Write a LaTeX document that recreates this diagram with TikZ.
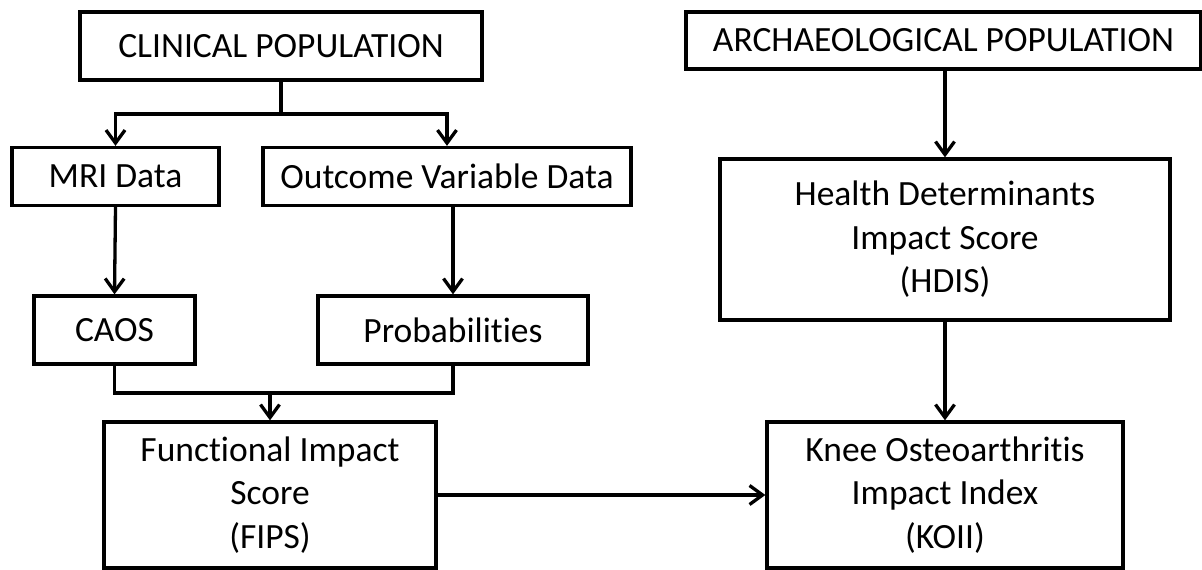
\documentclass[tikz,border=0pt]{standalone}
\usepackage{fontspec}
\setmainfont{Carlito}[Ligatures=NoCommon]
\usetikzlibrary{arrows.meta}

\tikzset{
  box/.style={draw=black, line width=3.3pt, rectangle, inner sep=0pt,
    align=center, font=\fontsize{35.5}{43.5}\selectfont},
  link/.style={draw=black, line width=3.3pt},
  arr/.style={link, -{Straight Barb[length=13pt, width=19pt, line width=3.3pt]}}
}

\begin{document}
\begin{tikzpicture}[x=1pt, y=-1pt]
  \useasboundingbox (0,0) rectangle (1202,570);

  % clinical branch
  \node[box, minimum width=402pt, minimum height=68pt] (clin) at (281,46) {CLINICAL POPULATION};
  \node[box, minimum width=207pt, minimum height=58pt] (mri) at (115.5,176.5) {MRI Data};
  \node[box, minimum width=368pt, minimum height=58pt] (outc) at (447,176.5) {Outcome Variable Data};
  \node[box, minimum width=161pt, minimum height=68pt] (caos) at (114.5,330) {CAOS};
  \node[box, minimum width=270pt, minimum height=68pt] (prob) at (453,330) {Probabilities};
  \node[box, minimum width=332pt, minimum height=146pt] (fips) at (270,495)
    {Functional Impact\\Score\\(FIPS)};

  % archaeological branch
  \node[box, minimum width=515pt, minimum height=57pt] (arch) at (943.5,40.5) {ARCHAEOLOGICAL POPULATION};
  \node[box, minimum width=450pt, minimum height=161pt] (hdis) at (945,239.5)
    {Health Determinants\\Impact Score\\(HDIS)};
  \node[box, minimum width=356pt, minimum height=146pt] (koii) at (945,495)
    {Knee Osteoarthritis\\Impact Index\\(KOII)};

  % branching and merging points
  \coordinate (split) at (281,114);
  \coordinate (merge) at (270,393);

  \draw[link] (clin.south) -- (split);
  \draw[arr] (split) -| (mri.north);
  \draw[arr] (split) -| (outc.north);
  \draw[arr] (mri.south) -- (caos.north);
  \draw[arr] (outc.south -| prob.north) -- (prob.north);
  \draw[link] (caos.south) |- (merge) -| (prob.south);
  \draw[arr] (merge) -- (fips.north);
  \draw[arr] (fips.east) -- (koii.west);
  \draw[arr] (arch.south -| hdis.north) -- (hdis.north);
  \draw[arr] (hdis.south) -- (koii.north);
\end{tikzpicture}
\end{document}
